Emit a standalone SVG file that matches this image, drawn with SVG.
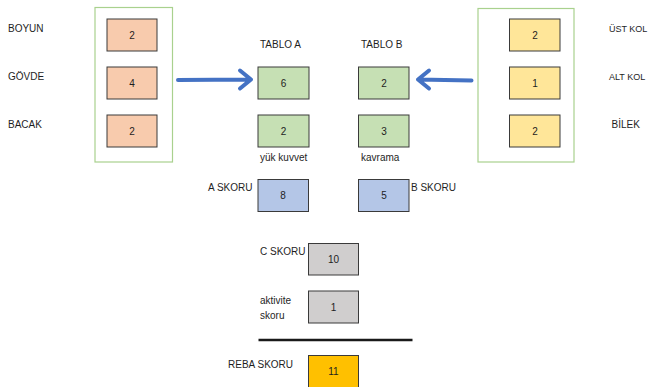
<svg xmlns="http://www.w3.org/2000/svg" width="651" height="387" viewBox="0 0 651 387">
  <style>
    text { font-family: "Liberation Sans", "Noto Sans", sans-serif; font-size: 10px; fill: #1e1e1e; }
    .num { text-anchor: middle; }
    .side { font-size: 9px; }
    .box { stroke: #3a3a3a; stroke-width: 1; }
    .group { fill: none; stroke: #a9d18e; stroke-width: 1.2; }
    .orange { fill: #f8cbad; }
    .green { fill: #c6e0b4; }
    .yellow { fill: #ffe699; }
    .blue { fill: #b4c6e7; }
    .grey { fill: #d0cece; }
    .gold { fill: #ffc000; }
    .arrow { fill: none; stroke: #4472c4; stroke-width: 4; stroke-linecap: round; stroke-linejoin: round; }
  </style>
  <rect width="651" height="387" fill="#ffffff"/>

  <!-- Body-part groups -->
  <g id="group-left">
    <rect class="group" x="95" y="7.5" width="77.5" height="154.5"/>
    <text x="8" y="32">BOYUN</text>
    <text x="8" y="80">GÖVDE</text>
    <text x="8" y="128">BACAK</text>
  </g>
  <g id="boyun"><rect class="box orange" x="107" y="19" width="50" height="32"/><text class="num" x="132" y="38.5">2</text></g>
  <g id="govde"><rect class="box orange" x="107" y="67" width="50" height="32"/><text class="num" x="132" y="86.5">4</text></g>
  <g id="bacak"><rect class="box orange" x="107" y="115" width="50" height="32"/><text class="num" x="132" y="134.5">2</text></g>

  <g id="group-right">
    <rect class="group" x="478" y="8.5" width="96" height="153.5"/>
    <text class="side" x="609" y="32">ÜST KOL</text>
    <text class="side" x="609" y="80">ALT KOL</text>
    <text x="611.5" y="128">BİLEK</text>
  </g>
  <g id="ust-kol"><rect class="box yellow" x="509.5" y="19" width="50.5" height="32"/><text class="num" x="535" y="38.5">2</text></g>
  <g id="alt-kol"><rect class="box yellow" x="509.5" y="67" width="50.5" height="32"/><text class="num" x="535" y="86.5">1</text></g>
  <g id="bilek"><rect class="box yellow" x="509.5" y="115" width="50.5" height="32"/><text class="num" x="535" y="134.5">2</text></g>

  <!-- Tables -->
  <g id="tablo-a">
    <text x="260" y="48">TABLO A</text>
    <rect class="box green" x="258" y="67" width="51" height="32"/><text class="num" x="283.5" y="86.5">6</text>
  </g>
  <g id="yuk-kuvvet">
    <rect class="box green" x="258" y="115" width="51" height="32"/><text class="num" x="283.5" y="134.5">2</text>
    <text x="260" y="161">yük kuvvet</text>
  </g>
  <g id="tablo-b">
    <text x="361" y="48">TABLO B</text>
    <rect class="box green" x="358.5" y="67" width="50.5" height="32"/><text class="num" x="384" y="86.5">2</text>
  </g>
  <g id="kavrama">
    <rect class="box green" x="358.5" y="115" width="50.5" height="32"/><text class="num" x="384" y="134.5">3</text>
    <text x="361" y="161">kavrama</text>
  </g>

  <!-- Scores -->
  <g id="a-skoru">
    <text x="208" y="191">A SKORU</text>
    <rect class="box blue" x="258" y="179.5" width="50.5" height="32"/><text class="num" x="283" y="199">8</text>
  </g>
  <g id="b-skoru">
    <rect class="box blue" x="358.5" y="179.5" width="50.5" height="32"/><text class="num" x="384" y="199">5</text>
    <text x="411" y="191">B SKORU</text>
  </g>
  <g id="c-skoru">
    <text x="260" y="255">C SKORU</text>
    <rect class="box grey" x="308.5" y="243.5" width="50" height="31.5"/><text class="num" x="333.5" y="263">10</text>
  </g>
  <g id="aktivite-skoru">
    <text x="260" y="304">aktivite</text>
    <text x="260" y="319">skoru</text>
    <rect class="box grey" x="308.5" y="291" width="50" height="32"/><text class="num" x="333.5" y="310.5">1</text>
  </g>
  <g id="reba-skoru">
    <text x="228" y="367.5">REBA SKORU</text>
    <rect class="box gold" x="308.5" y="355.5" width="50" height="32"/><text class="num" x="333.5" y="375">11</text>
  </g>

  <!-- Connectors -->
  <g id="connectors">
    <path class="arrow" d="M178 80 L251 79.5 M240 70.5 L251 79.5 L240 88.5"/>
    <path class="arrow" d="M471.5 80.5 L418 79.5 M429 70.5 L418 79.5 L429 88.5"/>
    <line x1="258.5" y1="340" x2="412.5" y2="340" stroke="#1a1a1a" stroke-width="2.5"/>
  </g>
</svg>
